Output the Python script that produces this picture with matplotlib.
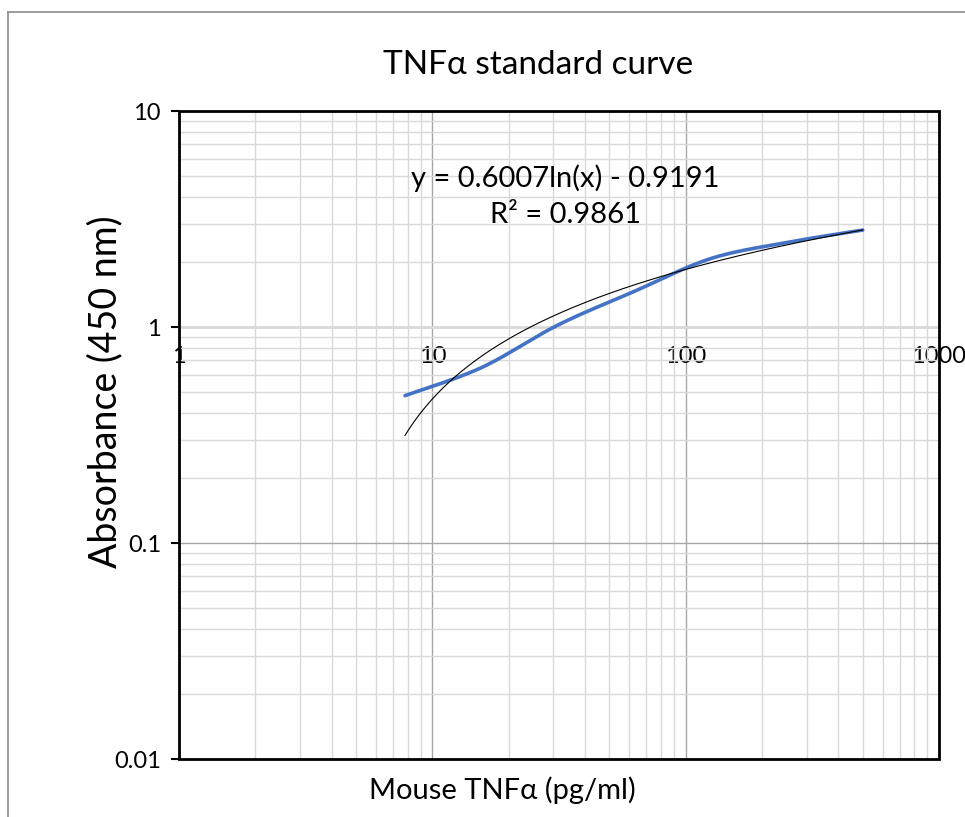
import numpy as np
import matplotlib
matplotlib.use("Agg")
import matplotlib.pyplot as plt
from matplotlib.patches import Rectangle
from matplotlib.lines import Line2D
from matplotlib.ticker import LogLocator, NullFormatter, FixedLocator

plt.rcParams['font.family'] = ['Lato', 'DejaVu Sans']

# standard dilution series and measured absorbance
conc = [7.8, 15.6, 31.25, 62.5, 125, 250, 500]
absorbance = [0.481, 0.648, 1.02, 1.46, 2.07, 2.46, 2.81]

# log trendline from the fit
slope = 0.6007
intercept = -0.9191
r2 = 0.9861

x_ticks = [1, 10, 100, 1000]
x_tick_labels = ['1', '10', '100', '1000']
y_ticks = [0.01, 0.1, 1, 10]
y_tick_labels = ['0.01', '0.1', '1', '10']


def smooth_curve(xs, ys, n=40):
    # bezier smoothing in log-log space, like a spreadsheet "smoothed line"
    px = np.log10(xs)
    py = np.log10(ys)
    P = np.column_stack([px, py])
    P = np.vstack([P[0], P, P[-1]])
    out = []
    t = np.linspace(0, 1, n)[:, None]
    for i in range(1, len(P) - 2):
        p0, p1, p2, p3 = P[i - 1], P[i], P[i + 1], P[i + 2]
        c1 = p1 + (p2 - p0) / 6
        c2 = p2 - (p3 - p1) / 6
        seg = ((1 - t) ** 3) * p1 + 3 * ((1 - t) ** 2) * t * c1 + 3 * (1 - t) * t ** 2 * c2 + t ** 3 * p2
        out.append(seg)
    out = np.vstack(out)
    return 10 ** out[:, 0], 10 ** out[:, 1]


fig = plt.figure(figsize=(9.65, 8.17), dpi=100)
ax = fig.add_axes([179 / 965, 1 - 759 / 817, 760 / 965, 648 / 817])

ax.set_xscale('log')
ax.set_yscale('log')
ax.set_xlim(1, 1000)
ax.set_ylim(0.01, 10)

ax.xaxis.set_minor_locator(LogLocator(base=10, subs=np.arange(2, 10)))
ax.yaxis.set_minor_locator(LogLocator(base=10, subs=np.arange(2, 10)))
ax.xaxis.set_minor_formatter(NullFormatter())
ax.yaxis.set_minor_formatter(NullFormatter())
ax.grid(True, which='major', color='#a6a6a6', linewidth=1.0, zorder=0)
ax.grid(True, which='minor', color='#d9d9d9', linewidth=1.0, zorder=0)
ax.set_axisbelow(True)

ax.yaxis.set_major_locator(FixedLocator(y_ticks))
ax.set_yticklabels(y_tick_labels, fontsize=17)
ax.tick_params(axis='y', which='major', length=6, width=1.5, color='black', pad=7)
ax.tick_params(axis='y', which='minor', length=0)

# horizontal axis crosses at y = 1
ax.spines['bottom'].set_position(('data', 1))
ax.spines['bottom'].set_color('#d9d9d9')
ax.spines['bottom'].set_linewidth(2)
ax.xaxis.set_major_locator(FixedLocator(x_ticks))
ax.set_xticklabels(x_tick_labels, fontsize=17)
ax.tick_params(axis='x', which='both', length=0, pad=14)
for s in ['top', 'right', 'left']:
    ax.spines[s].set_visible(False)

ax.add_patch(Rectangle((0, 0), 1, 1, transform=ax.transAxes, fill=False,
                       edgecolor='black', linewidth=2, zorder=5, clip_on=False))

sx, sy = smooth_curve(conc, absorbance)
ax.plot(sx, sy, color='#4472C4', linewidth=2.6, zorder=3, solid_capstyle='round')

tx = np.geomspace(min(conc), max(conc), 300)
ax.plot(tx, slope * np.log(tx) + intercept, color='black', linewidth=0.8, zorder=4)

ax.text(10 ** 1.524, 10 ** 0.690, 'y = %.4fln(x) - %.4f' % (slope, -intercept),
        fontsize=21, ha='center', va='center', zorder=6)
ax.text(10 ** 1.524, 10 ** 0.519, 'R² = %.4f' % r2,
        fontsize=21, ha='center', va='center', zorder=6)

fig.text(538 / 965, 1 - 65 / 817, 'TNFα standard curve', fontsize=24, ha='center', va='center')
fig.text(502 / 965, 1 - 790 / 817, 'Mouse TNFα (pg/ml)', fontsize=21, ha='center', va='center')
fig.text(105 / 965, 1 - 392 / 817, 'Absorbance (450 nm)', fontsize=27, ha='center', va='center',
         rotation=90)

# outer chart frame
fig.add_artist(Line2D([8 / 965, 8 / 965], [0, 1 - 12 / 817], transform=fig.transFigure,
                      color='#8c8c8c', linewidth=1.2))
fig.add_artist(Line2D([8 / 965, 1], [1 - 12 / 817, 1 - 12 / 817], transform=fig.transFigure,
                      color='#8c8c8c', linewidth=1.2))

fig.savefig('out.png', dpi=100)
